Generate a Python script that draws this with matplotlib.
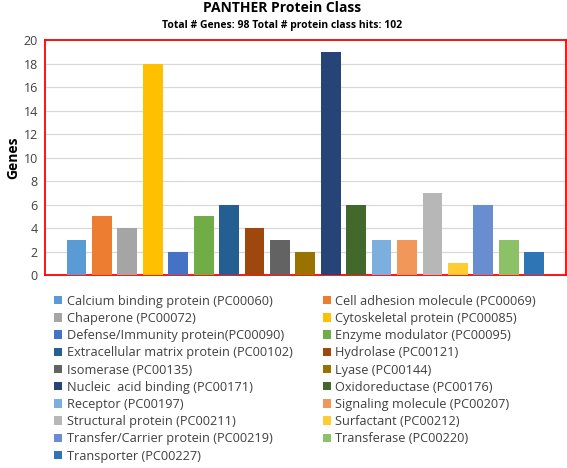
import matplotlib.pyplot as plt
from matplotlib.patches import Patch

# Dados
classes = [
    "Calcium binding protein (PC00060)",
    "Cell adhesion molecule (PC00069)",
    "Chaperone (PC00072)",
    "Cytoskeletal protein (PC00085)",
    "Defense/Immunity protein(PC00090)",
    "Enzyme modulator (PC00095)",
    "Extracellular matrix protein (PC00102)",
    "Hydrolase (PC00121)",
    "Isomerase (PC00135)",
    "Lyase (PC00144)",
    "Nucleic  acid binding (PC00171)",
    "Oxidoreductase (PC00176)",
    "Receptor (PC00197)",
    "Signaling molecule (PC00207)",
    "Structural protein (PC00211)",
    "Surfactant (PC00212)",
    "Transfer/Carrier protein (PC00219)",
    "Transferase (PC00220)",
    "Transporter (PC00227)",
]
genes = [3, 5, 4, 18, 2, 5, 6, 4, 3, 2, 19, 6, 3, 3, 7, 1, 6, 3, 2]
cores = [
    "#5B9BD5", "#ED7D31", "#A5A5A5", "#FFC000", "#4472C4", "#70AD47",
    "#255E91", "#9E480E", "#636363", "#997300", "#264478", "#43682B",
    "#7CAFDD", "#F1975A", "#B7B7B7", "#FFCD33", "#698ED0", "#8CC168",
    "#2E75B6",
]

plt.rcParams['font.family'] = ['Open Sans', 'DejaVu Sans']

fig = plt.figure(figsize=(5.67, 4.68), dpi=100)
ax = fig.add_axes([0.079, 0.412, 0.919, 0.502])

x = range(len(genes))
ax.bar(x, genes, width=0.78, color=cores, zorder=3)

ax.set_xlim(-1.25, len(genes) - 1 + 1.25)
ax.set_ylim(0, 20)
ax.set_yticks(range(0, 21, 2))
ax.set_xticks([])
ax.tick_params(axis='y', length=0, labelsize=9, labelcolor='#404040', pad=5)
ax.yaxis.grid(True, color='#D9D9D9', linewidth=0.9, zorder=0)
for s in ax.spines.values():
    s.set_color('#FF0000')
    s.set_linewidth(1.3)
ax.set_ylabel('Genes', fontsize=10, fontweight='bold', labelpad=2)

fig.text(0.497, 0.982, 'PANTHER Protein Class', ha='center', va='center',
         fontsize=10, fontweight='bold')
fig.text(0.497, 0.946, 'Total # Genes: 98 Total # protein class hits: 102',
         ha='center', va='center', fontsize=7.5, fontweight='bold')

# legenda em duas colunas, preenchida por linha
itens = [Patch(facecolor=c, label=l) for c, l in zip(cores, classes)]
ordem = itens[0::2] + itens[1::2]
fig.legend(handles=ordem, loc='upper left', bbox_to_anchor=(0.075, 0.395),
           ncol=2, frameon=False, fontsize=9.2, handlelength=0.65,
           handleheight=0.65, handletextpad=0.35, columnspacing=2.35,
           labelspacing=0.33, labelcolor='#404040')

plt.savefig('out.png', dpi=100)
